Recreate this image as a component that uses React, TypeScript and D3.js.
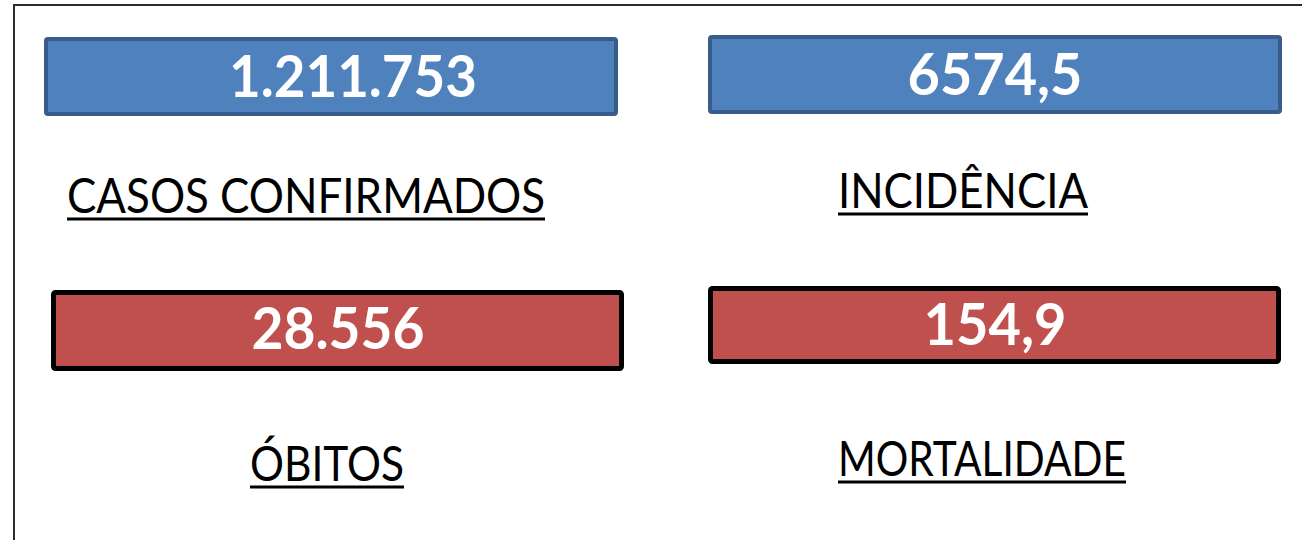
import * as d3 from 'd3'
import { useEffect, useRef } from 'react'

// indicator values and their captions
const values = ['1.211.753', '6574,5', '28.556', '154,9']
const labels = ['CASOS CONFIRMADOS', 'INCIDÊNCIA', 'ÓBITOS', 'MORTALIDADE']
const groups = ['casos', 'casos', 'obitos', 'obitos']

// card layout (outer edges), value text and caption placement
const boxes = [
  { x: 44, y: 37, w: 574, h: 79 },
  { x: 708, y: 35, w: 574, h: 79 },
  { x: 51, y: 290, w: 573, h: 81 },
  { x: 708, y: 286, w: 573, h: 78 },
]
const valuePos = [
  { cx: 353, by: 97, w: 248 },
  { cx: 995, by: 95, w: 175 },
  { cx: 338, by: 349, w: 173 },
  { cx: 995, by: 345, w: 143 },
]
const labelPos = [
  { x: 67, by: 213, w: 478 },
  { x: 838, by: 208, w: 250 },
  { x: 250, by: 481, w: 154 },
  { x: 838, by: 476, w: 288 },
]

const W = 1302
const H = 540

const App = () => {
  const svgRef = useRef<SVGSVGElement>(null)

  useEffect(() => {
    const svg = d3.select(svgRef.current)
    svg.selectAll('*').remove()

    const fill = d3.scaleOrdinal<string, string>().domain(['casos', 'obitos']).range(['#4f81bd', '#c0504d'])
    const stroke = d3.scaleOrdinal<string, string>().domain(['casos', 'obitos']).range(['#385d8a', '#000000'])
    const strokeW = d3.scaleOrdinal<string, number>().domain(['casos', 'obitos']).range([4, 5])

    svg.append('rect').attr('width', W).attr('height', H).attr('fill', '#ffffff')

    // frame lines (top and left)
    svg
      .append('path')
      .attr('d', `M14,${H} L14,5 L${W},5`)
      .attr('fill', 'none')
      .attr('stroke', '#2b2b2b')
      .attr('stroke-width', 2)

    const data = values.map((v, i) => ({ value: v, label: labels[i], group: groups[i], i }))

    // cards
    svg
      .selectAll('.card')
      .data(data)
      .enter()
      .append('rect')
      .attr('class', 'card')
      .attr('x', (d) => boxes[d.i].x + strokeW(d.group) / 2)
      .attr('y', (d) => boxes[d.i].y + strokeW(d.group) / 2)
      .attr('width', (d) => boxes[d.i].w - strokeW(d.group))
      .attr('height', (d) => boxes[d.i].h - strokeW(d.group))
      .attr('rx', 2)
      .attr('fill', (d) => fill(d.group))
      .attr('stroke', (d) => stroke(d.group))
      .attr('stroke-width', (d) => strokeW(d.group))

    // values
    svg
      .selectAll('.value')
      .data(data)
      .enter()
      .append('text')
      .attr('class', 'value')
      .attr('x', (d) => valuePos[d.i].cx)
      .attr('y', (d) => valuePos[d.i].by)
      .attr('text-anchor', 'middle')
      .attr('textLength', (d) => valuePos[d.i].w)
      .attr('lengthAdjust', 'spacingAndGlyphs')
      .style('font-family', 'Lato, "Open Sans", sans-serif')
      .style('font-weight', 700)
      .style('font-size', '57px')
      .style('fill', '#ffffff')
      .text((d) => d.value)

    // captions
    svg
      .selectAll('.label')
      .data(data)
      .enter()
      .append('text')
      .attr('class', 'label')
      .attr('x', (d) => labelPos[d.i].x)
      .attr('y', (d) => labelPos[d.i].by)
      .attr('textLength', (d) => labelPos[d.i].w)
      .attr('lengthAdjust', 'spacingAndGlyphs')
      .style('font-family', 'Lato, "Open Sans", sans-serif')
      .style('font-size', '49px')
      .style('fill', '#000000')
      .text((d) => d.label)

    // underlines
    svg
      .selectAll('.underline')
      .data(data)
      .enter()
      .append('line')
      .attr('class', 'underline')
      .attr('x1', (d) => labelPos[d.i].x)
      .attr('x2', (d) => labelPos[d.i].x + labelPos[d.i].w)
      .attr('y1', (d) => labelPos[d.i].by + 6)
      .attr('y2', (d) => labelPos[d.i].by + 6)
      .attr('stroke', '#000000')
      .attr('stroke-width', 3)
  }, [])

  return (
    <svg
      ref={svgRef}
      width={W}
      height={H}
      style={{ position: 'absolute', left: 0, top: 0, display: 'block' }}
    ></svg>
  )
}

export default App
